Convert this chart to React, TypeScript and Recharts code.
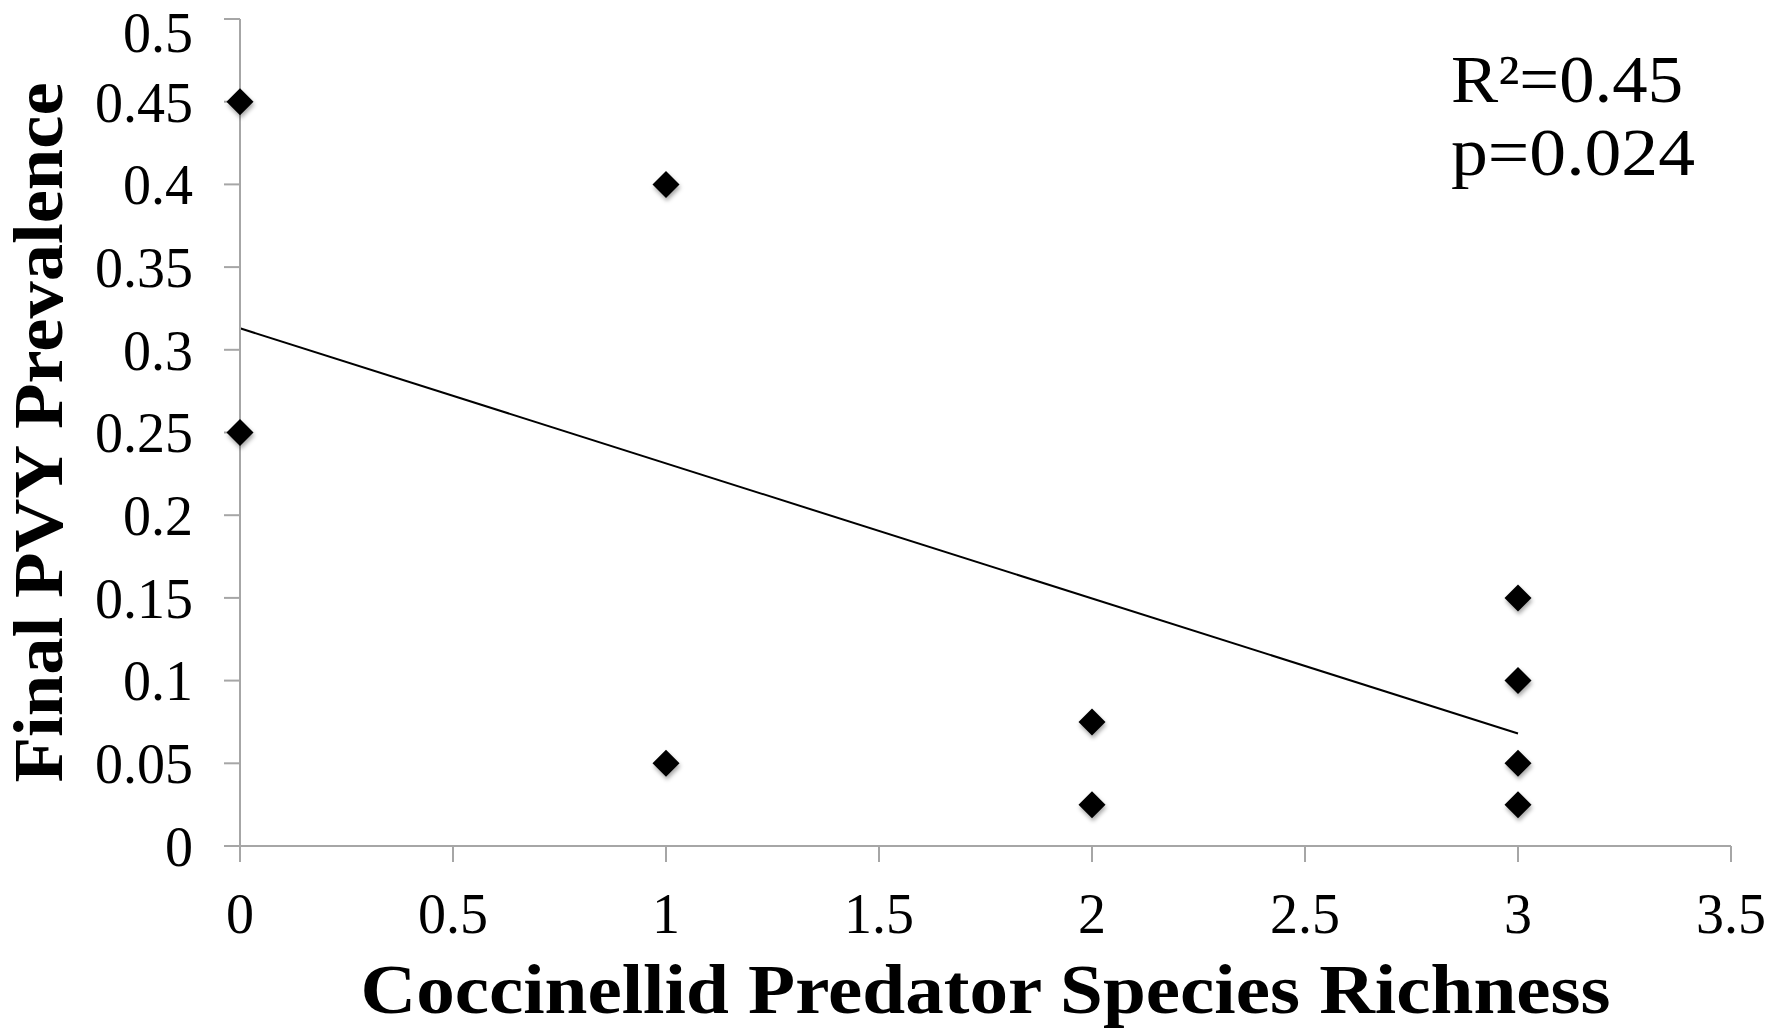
import { ScatterChart, Scatter, XAxis, YAxis, ReferenceLine } from "recharts"

const richness = [0, 0, 1, 1, 2, 2, 3, 3, 3, 3]
const prevalence = [0.45, 0.25, 0.4, 0.05, 0.075, 0.025, 0.15, 0.1, 0.05, 0.025]
const xTicks = [0, 0.5, 1, 1.5, 2, 2.5, 3, 3.5]
const yTicks = [0, 0.05, 0.1, 0.15, 0.2, 0.25, 0.3, 0.35, 0.4, 0.45, 0.5]
// trend line endpoints (x, y)
const trendX = [0, 3]
const trendY = [0.313, 0.068]
const statLines = ["R²=0.45", "p=0.024"]

const SERIF = "'Liberation Serif', 'Times New Roman', serif"
const AXIS_GREY = "#a6a6a6"

const points = richness.map((x, i) => ({ x, y: prevalence[i] }))

const fmt = (v: number) => String(parseFloat(v.toFixed(3)))

function Diamond(props: any) {
  const { cx, cy } = props
  if (cx == null || cy == null) return null
  const r = 13.5
  return (
    <polygon
      points={`${cx},${cy - r} ${cx + r},${cy} ${cx},${cy + r} ${cx - r},${cy}`}
      fill="#000"
      style={{ filter: "drop-shadow(1px 3px 2px rgba(0,0,0,0.35))" }}
    />
  )
}

function YTitle(props: any) {
  const { viewBox } = props
  const cx = 62
  const cy = viewBox.y + viewBox.height / 2
  return (
    <text
      x={cx}
      y={cy}
      transform={`rotate(-90, ${cx}, ${cy})`}
      textAnchor="middle"
      fontFamily={SERIF}
      fontWeight="bold"
      fontSize={70}
      textLength={700}
      lengthAdjust="spacingAndGlyphs"
      fill="#000"
    >
      Final PVY Prevalence
    </text>
  )
}

function XTitle(props: any) {
  const { viewBox } = props
  return (
    <text
      x={viewBox.x + viewBox.width / 2}
      y={1013}
      textAnchor="middle"
      fontFamily={SERIF}
      fontWeight="bold"
      fontSize={70}
      textLength={1250}
      lengthAdjust="spacingAndGlyphs"
      fill="#000"
    >
      Coccinellid Predator Species Richness
    </text>
  )
}

export default function App() {
  return (
    <div style={{ position: "absolute", left: 0, top: 0, width: 1784, height: 1029, background: "#fff" }}>
      <ScatterChart
        width={1784}
        height={1029}
        margin={{ top: 19, right: 53, bottom: 0, left: 0 }}
      >
        <XAxis
          type="number"
          dataKey="x"
          domain={[0, 3.5]}
          ticks={xTicks}
          tickFormatter={fmt}
          height={183}
          tickSize={16}
          tickMargin={31}
          stroke={AXIS_GREY}
          strokeWidth={2}
          tick={{ fontFamily: SERIF, fontSize: 56, fill: "#000" }}
          label={<XTitle />}
        />
        <YAxis
          type="number"
          dataKey="y"
          domain={[0, 0.5]}
          ticks={yTicks}
          tickFormatter={fmt}
          width={240}
          tickSize={16}
          tickMargin={31}
          stroke={AXIS_GREY}
          strokeWidth={2}
          tick={{ fontFamily: SERIF, fontSize: 56, fill: "#000" }}
          label={<YTitle />}
        />
        <ReferenceLine
          segment={[
            { x: trendX[0], y: trendY[0] },
            { x: trendX[1], y: trendY[1] },
          ]}
          stroke="#000"
          strokeWidth={2}
        />
        <Scatter data={points} shape={<Diamond />} isAnimationActive={false} />
      </ScatterChart>
      <svg width={1784} height={1029} style={{ position: "absolute", left: 0, top: 0, pointerEvents: "none" }}>
        {statLines.map((t, i) => (
          <text
            key={t}
            x={1451}
            y={102 + i * 73}
            fontFamily={SERIF}
            fontSize={68}
            textLength={i === 0 ? 232 : 244}
            lengthAdjust="spacingAndGlyphs"
            fill="#000"
          >
            {t}
          </text>
        ))}
      </svg>
    </div>
  )
}
